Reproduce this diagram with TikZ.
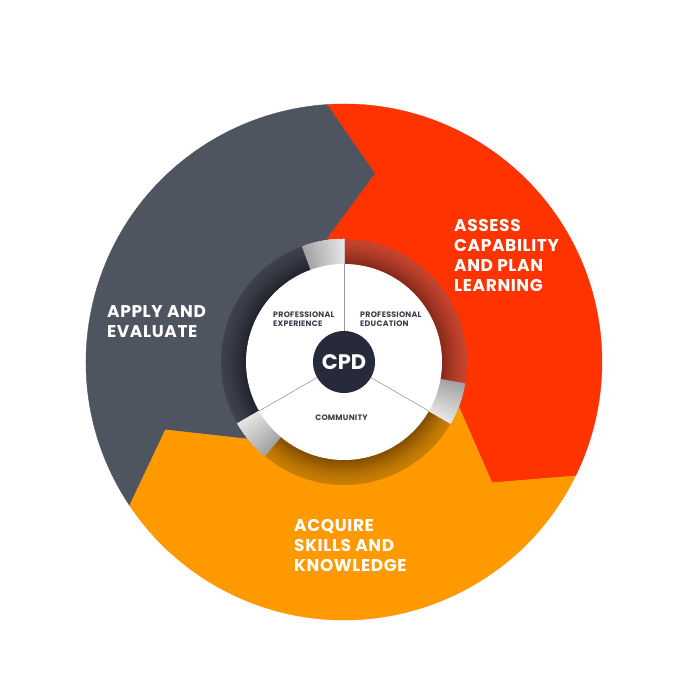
\documentclass[tikz,border=0pt]{standalone}
\usepackage{fontspec}
\setmainfont{Poppins}
\definecolor{slate}{HTML}{4F5461}
\definecolor{cred}{HTML}{FF3300}
\definecolor{corange}{HTML}{FF9900}
\definecolor{rin}{HTML}{862A1A}
\definecolor{rout}{HTML}{C4442E}
\definecolor{oin}{HTML}{844F00}
\definecolor{oout}{HTML}{C97F04}
\definecolor{din}{HTML}{22242E}
\definecolor{dout}{HTML}{3E414D}
\definecolor{gdark}{HTML}{A4A4A4}
\definecolor{glight}{HTML}{E4E4E4}
\definecolor{cpdblue}{HTML}{262A3B}
\definecolor{lbl}{HTML}{3A3D4A}
\tikzset{
  bigl/.style={text=white, font=\fontsize{17}{20.3}\selectfont\bfseries\addfontfeature{LetterSpace=3.5}, align=left, inner sep=0pt, anchor=base west},
  smalll/.style={text=lbl, font=\fontsize{7.9}{9.2}\selectfont\bfseries\addfontfeature{LetterSpace=3}, align=left, inner sep=0pt, anchor=base west},
  divline/.style={draw=gray!80, line width=0.6pt},
}
\begin{document}
\begin{tikzpicture}[x=1pt,y=1pt]
\useasboundingbox (0,0) rectangle (700,700);
\fill[white] (0,0) rectangle (700,700);
\begin{scope}[shift={(344,338)}]
  % outer segments
  \fill[cred, draw=cred, line width=0.4pt] (93.8:258) arc[start angle=93.8, end angle=-26.2, radius=258]
     -- (-39.2:191) -- (-21.2:123) -- (0,0) -- (98.8:123) -- (80.8:191) -- cycle;
  \fill[slate, draw=slate, line width=0.4pt] (213.8:258) arc[start angle=213.8, end angle=93.8, radius=258]
     -- (80.8:191) -- (98.8:123) -- (0,0) -- (218.8:123) -- (200.8:191) -- cycle;
  \fill[corange, draw=corange, line width=0.4pt] (-26.2:258) arc[start angle=-26.2, end angle=-146.2, radius=258]
     -- (-159.2:191) -- (-141.2:123) -- (0,0) -- (-21.2:123) -- (-39.2:191) -- cycle;
  % inner ring coloured segments (radial shading by steps)
  \foreach \i in {0,...,16}{
    \pgfmathsetmacro\rr{123-\i*25/17}
    \pgfmathsetmacro\pp{100-100*(\i/16)^1.4}
    \fill[rout!\pp!rin] (0,0) -- (90:\rr) arc[start angle=90, end angle=-10, radius=\rr] -- cycle;
    \fill[dout!\pp!din] (0,0) -- (210:\rr) arc[start angle=210, end angle=110, radius=\rr] -- cycle;
    \fill[oout!\pp!oin] (0,0) -- (330:\rr) arc[start angle=330, end angle=230, radius=\rr] -- cycle;
  }
  % grey gaps (angular shading by steps)
  \foreach \i in {0,...,19}{
    \pgfmathsetmacro\aa{20-\i}
    \pgfmathsetmacro\pp{\i*100/19}
    \foreach \L in {90,210,330}{
      \fill[glight!\pp!gdark] (0,0) -- (\L:123) arc[start angle=\L, end angle=\L+\aa, radius=123] -- cycle;
    }
  }
  % white disc
  \fill[white] (0,0) circle[radius=98];
  % centre
  \node[circle, minimum size=62pt, inner sep=0pt, fill=cpdblue, text=white, font=\fontsize{21}{24}\selectfont\bfseries] (cpd) at (0,0) {CPD};
  \coordinate (t1) at (90:98);
  \coordinate (t2) at (210:98);
  \coordinate (t3) at (330:98);
  \draw[divline] (cpd.90) -- (t1);
  \draw[divline] (cpd.210) -- (t2);
  \draw[divline] (cpd.330) -- (t3);
\end{scope}
% labels (base anchor = baseline of last line)
\node[bigl] (assess) at (454,408) {ASSESS\\CAPABILITY\\AND PLAN\\LEARNING};
\node[bigl] (apply) at (107,362) {APPLY AND\\EVALUATE};
\node[bigl] (acquire) at (294,128) {ACQUIRE\\SKILLS AND\\KNOWLEDGE};
\node[smalll] (pexp) at (273,373) {PROFESSIONAL\\EXPERIENCE};
\node[smalll] (pedu) at (360,373) {PROFESSIONAL\\EDUCATION};
\node[smalll, anchor=base] (comm) at (341.5,279) {COMMUNITY};
\end{tikzpicture}
\end{document}
